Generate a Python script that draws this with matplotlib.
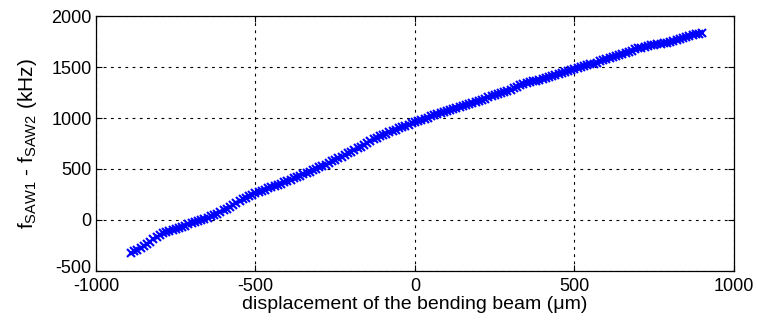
import matplotlib
matplotlib.use("Agg")
import matplotlib.pyplot as plt
import matplotlib.transforms as mtransforms

plt.rcParams["font.family"] = ["Liberation Sans", "DejaVu Sans"]
plt.rcParams["mathtext.fontset"] = "custom"
plt.rcParams["mathtext.rm"] = "Liberation Sans"
plt.rcParams["mathtext.it"] = "Liberation Sans"
plt.rcParams["axes.unicode_minus"] = False

# displacement of the bending beam (um), one reading every 10 um
displacement = [
    -890, -880, -870, -860, -850, -840, -830, -820, -810, -800,
    -790, -780, -770, -760, -750, -740, -730, -720, -710, -700,
    -690, -680, -670, -660, -650, -640, -630, -620, -610, -600,
    -590, -580, -570, -560, -550, -540, -530, -520, -510, -500,
    -490, -480, -470, -460, -450, -440, -430, -420, -410, -400,
    -390, -380, -370, -360, -350, -340, -330, -320, -310, -300,
    -290, -280, -270, -260, -250, -240, -230, -220, -210, -200,
    -190, -180, -170, -160, -150, -140, -130, -120, -110, -100,
    -90, -80, -70, -60, -50, -40, -30, -20, -10, 0,
    10, 20, 30, 40, 50, 60, 70, 80, 90, 100,
    110, 120, 130, 140, 150, 160, 170, 180, 190, 200,
    210, 220, 230, 240, 250, 260, 270, 280, 290, 300,
    310, 320, 330, 340, 350, 360, 370, 380, 390, 400,
    410, 420, 430, 440, 450, 460, 470, 480, 490, 500,
    510, 520, 530, 540, 550, 560, 570, 580, 590, 600,
    610, 620, 630, 640, 650, 660, 670, 680, 690, 700,
    710, 720, 730, 740, 750, 760, 770, 780, 790, 800,
    810, 820, 830, 840, 850, 860, 870, 880, 890, 900,
]
# f_SAW1 - f_SAW2 (kHz)
freq_diff = [
    -326, -308, -290, -272, -254, -234, -214, -190, -167, -146,
    -126, -116, -106, -95, -85, -75, -65, -54, -43, -33,
    -22, -12, -1, 11, 24, 37, 50, 63, 76, 94,
    112, 131, 150, 168, 186, 202, 218, 234, 249, 263,
    275, 286, 297, 309, 320, 331, 342, 355, 368, 381,
    394, 408, 421, 435, 448, 462, 475, 489, 502, 515,
    528, 543, 558, 574, 589, 605, 620, 636, 652, 669,
    686, 703, 720, 739, 758, 776, 793, 807, 821, 834,
    847, 860, 873, 886, 898, 911, 923, 936, 948, 960,
    971, 982, 993, 1004, 1015, 1026, 1036, 1047, 1058, 1069,
    1079, 1090, 1100, 1110, 1119, 1129, 1138, 1148, 1157, 1167,
    1178, 1190, 1201, 1213, 1224, 1235, 1246, 1257, 1267, 1278,
    1290, 1306, 1322, 1331, 1340, 1349, 1358, 1367, 1376, 1386,
    1395, 1405, 1414, 1424, 1434, 1444, 1454, 1464, 1474, 1484,
    1494, 1502, 1509, 1517, 1525, 1534, 1543, 1554, 1564, 1574,
    1584, 1594, 1604, 1615, 1627, 1638, 1650, 1661, 1673, 1682,
    1690, 1699, 1707, 1712, 1717, 1721, 1726, 1731, 1737, 1746,
    1756, 1766, 1775, 1784, 1793, 1802, 1811, 1819, 1828, 1837,
]

x_ticks = [-1000, -500, 0, 500, 1000]
y_ticks = [-500, 0, 500, 1000, 1500, 2000]

fig = plt.figure(figsize=(7.57, 3.24), dpi=100)
ax = fig.add_axes([0.1268, 0.1636, 0.8428, 0.787])

ax.plot(displacement, freq_diff, linestyle="none", marker="x",
        color="#0000ff", markersize=6, markeredgewidth=1.5)

ax.set_xlim(-1000, 1000)
ax.set_ylim(-500, 2000)
ax.set_xticks(x_ticks)
ax.set_yticks(y_ticks)
ax.grid(True, color="black", linestyle=(0, (2.5, 4)), linewidth=0.8)
ax.tick_params(direction="in", length=4, width=0.8, labelsize=13,
               top=True, right=True)
ax.tick_params(axis="x", pad=5)
ax.tick_params(axis="y", pad=3)
for s in ax.spines.values():
    s.set_linewidth(0.9)

# lift the bottom y label a little so it clears the -1000 x label
lowest = ax.get_yticklabels()[0]
lowest.set_transform(lowest.get_transform()
                     + mtransforms.ScaledTranslation(0, 4 / 100, fig.dpi_scale_trans))

ax.set_xlabel("displacement of the bending beam (\u03bcm)", fontsize=14, labelpad=1)
ax.set_ylabel(r"f$_{\mathrm{SAW1}}$ - f$_{\mathrm{SAW2}}$ (kHz)", fontsize=15, labelpad=9)

fig.savefig("out.png", dpi=100)
